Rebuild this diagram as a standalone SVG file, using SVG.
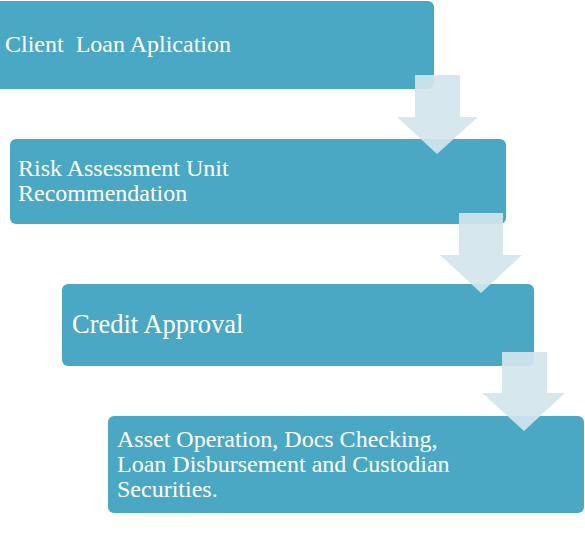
<svg xmlns="http://www.w3.org/2000/svg" width="585" height="537" viewBox="0 0 585 537">
<style>
.box{fill:#4aa8c5;}
.lbl{fill:#ffffff;font-family:"Liberation Serif","Times New Roman",serif;font-size:24px;}
.big{font-size:26.5px;}
.arrow{fill:#d3e5ec;fill-opacity:0.92;}
</style>
<rect width="585" height="537" fill="#ffffff"/>
<g id="node1">
<rect class="box" x="-6" y="1" width="440" height="88" rx="6"/>
<text class="lbl" x="5" y="52" xml:space="preserve">Client  Loan Aplication</text>
</g>
<g id="node2">
<rect class="box" x="10" y="139" width="496" height="85" rx="6"/>
<text class="lbl" x="18" y="176">Risk Assessment Unit</text>
<text class="lbl" x="18" y="201">Recommendation</text>
</g>
<g id="node3">
<rect class="box" x="62" y="284" width="472" height="82" rx="6"/>
<text class="lbl big" x="72" y="333">Credit Approval</text>
</g>
<g id="node4">
<rect class="box" x="108" y="416" width="476" height="97" rx="6"/>
<text class="lbl" x="117" y="447">Asset Operation, Docs Checking,</text>
<text class="lbl" x="117" y="472">Loan Disbursement and Custodian</text>
<text class="lbl" x="117" y="497">Securities.</text>
</g>
<g id="connectors">
<polygon class="arrow" points="415,75 460,75 460,117 478,117 437,154 397,117 415,117"/>
<polygon class="arrow" points="459,213 503,213 503,255 522,255 481,293 440,255 459,255"/>
<polygon class="arrow" points="502,352 547,352 547,393 565,393 524,431 482,393 502,393"/>
</g>
</svg>
